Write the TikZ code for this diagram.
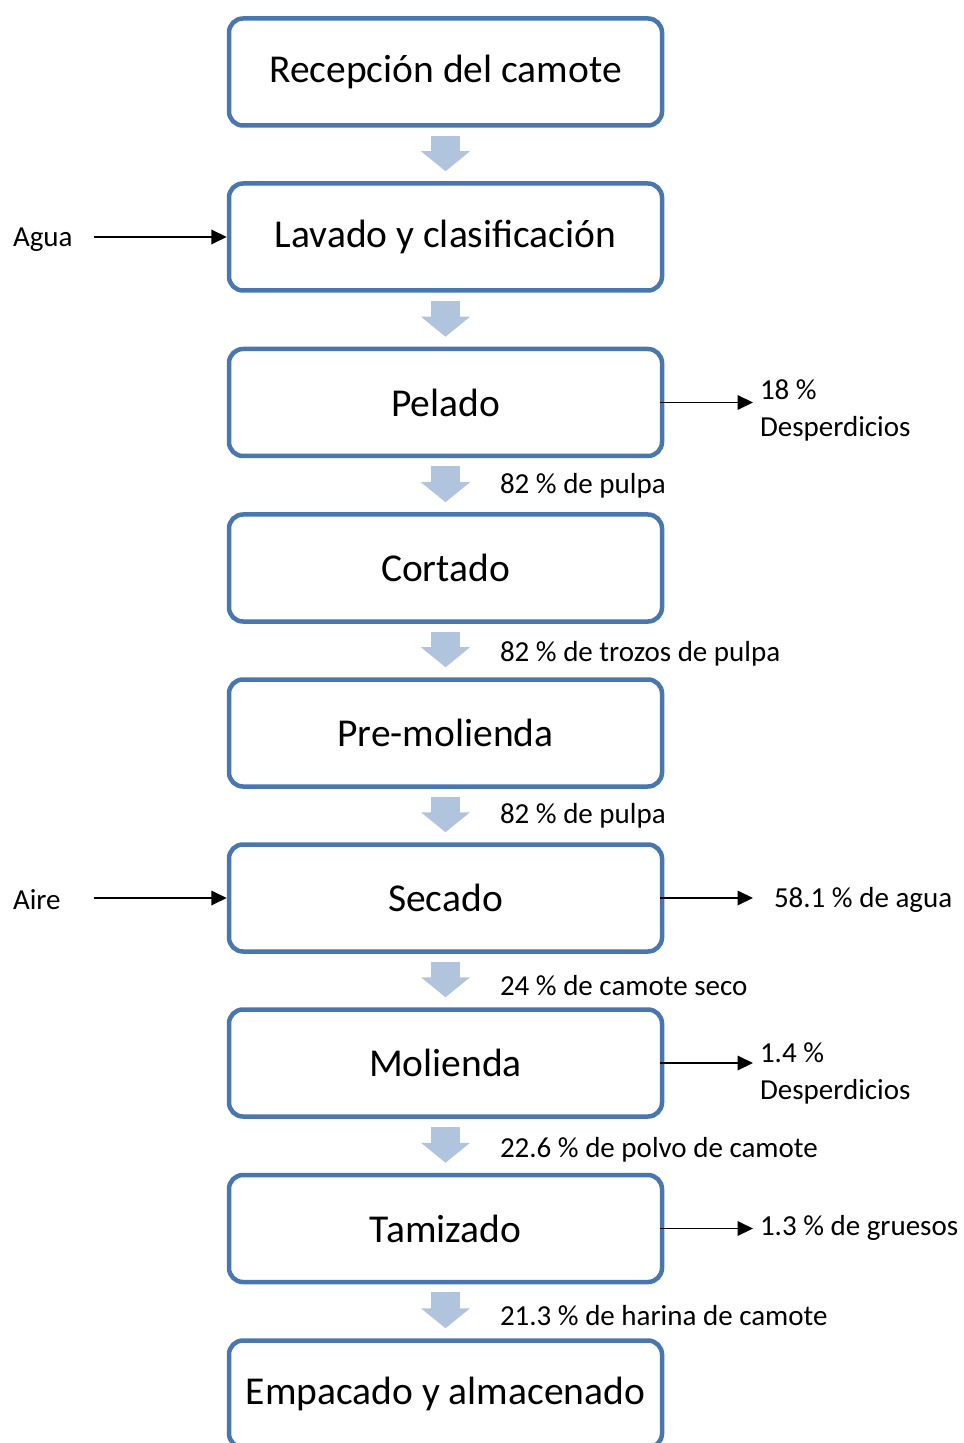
\documentclass[tikz,border=0pt]{standalone}
\usepackage{fontspec}
\setmainfont{Carlito}
\usetikzlibrary{arrows.meta}
\definecolor{bordeazul}{RGB}{71,118,176}
\definecolor{flechaazul}{RGB}{176,196,222}
\tikzset{
  proceso/.style={draw=bordeazul, line width=1.8pt, rounded corners=5.6pt,
    fill=white, minimum width=173.2pt, minimum height=42.8pt, inner sep=0pt,
    font=\fontsize{15.8}{19}\selectfont},
  bajada/.style={draw=flechaazul, line width=11.6pt,
    -{Triangle[width=19.2pt,length=8pt]}, shorten <=3.2pt, shorten >=4pt},
  entrada/.style={draw=black, line width=0.75pt,
    -{Triangle[width=5.8pt,length=6.2pt]}},
  etiqueta/.style={font=\fontsize{11.6}{14.8}\selectfont, inner sep=1pt,
    anchor=west, align=left}
}
\begin{document}
\begin{tikzpicture}[x=0.4pt,y=-0.4pt]
  \useasboundingbox (0,0) rectangle (964,1443);
  \clip (0,0) rectangle (964,1443);
  % etapas del proceso
  \node [proceso] (recep) at (445.5,72) {Recepción del camote};
  \node [proceso] (lavado) at (445.5,237) {Lavado y clasificación};
  \node [proceso] (pelado) at (445.5,402.5) {Pelado};
  \node [proceso] (cortado) at (445.5,568) {Cortado};
  \node [proceso] (premol) at (445.5,733) {Pre-molienda};
  \node [proceso] (secado) at (445.5,898) {Secado};
  \node [proceso] (molienda) at (445.5,1063) {Molienda};
  \node [proceso] (tamizado) at (445.5,1228.5) {Tamizado};
  \node [proceso] (empacado) at (445.5,1394) {Empacado y almacenado};
  % flechas entre etapas
  \draw [bajada] (recep.south) -- (lavado.north);
  \draw [bajada] (lavado.south) -- (pelado.north);
  \draw [bajada] (pelado.south) -- (cortado.north);
  \draw [bajada] (cortado.south) -- (premol.north);
  \draw [bajada] (premol.south) -- (secado.north);
  \draw [bajada] (secado.south) -- (molienda.north);
  \draw [bajada] (molienda.south) -- (tamizado.north);
  \draw [bajada] (tamizado.south) -- (empacado.north);
  % rendimientos
  \node [etiqueta] (p1) at (497,486) {82 \% de pulpa};
  \node [etiqueta] (p2) at (497,654) {82 \% de trozos de pulpa};
  \node [etiqueta] (p3) at (497,816) {82 \% de pulpa};
  \node [etiqueta] (p4) at (497,986) {24 \% de camote seco};
  \node [etiqueta] (p5) at (497,1150) {22.6 \% de polvo de camote};
  \node [etiqueta] (p6) at (497,1316) {21.3 \% de harina de camote};
  % entradas
  \node [etiqueta] (agua) at (10,240) {Agua};
  \node [etiqueta] (aire) at (10,900) {Aire};
  \draw [entrada] ([xshift=-53.2pt]lavado.west) -- (lavado.west);
  \draw [entrada] ([xshift=-53.2pt]secado.west) -- (secado.west);
  % salidas
  \node [etiqueta] (d18) at (757,410) {18 \%\\Desperdicios};
  \node [etiqueta] (dagua) at (771,900) {58.1 \% de agua};
  \node [etiqueta] (d14) at (757,1073) {1.4 \%\\Desperdicios};
  \node [etiqueta] (grue) at (757,1228) {1.3 \% de gruesos};
  \draw [entrada, shorten <=-1.6pt, shorten >=1.6pt] (pelado.east) -- (pelado.east -| d18.west);
  \draw [entrada, shorten <=-1.6pt, shorten >=7.2pt] (secado.east) -- (secado.east -| dagua.west);
  \draw [entrada, shorten <=-1.6pt, shorten >=1.6pt] (molienda.east) -- (molienda.east -| d14.west);
  \draw [entrada, shorten <=-1.6pt, shorten >=1.6pt] (tamizado.east) -- (tamizado.east -| grue.west);
\end{tikzpicture}
\end{document}
